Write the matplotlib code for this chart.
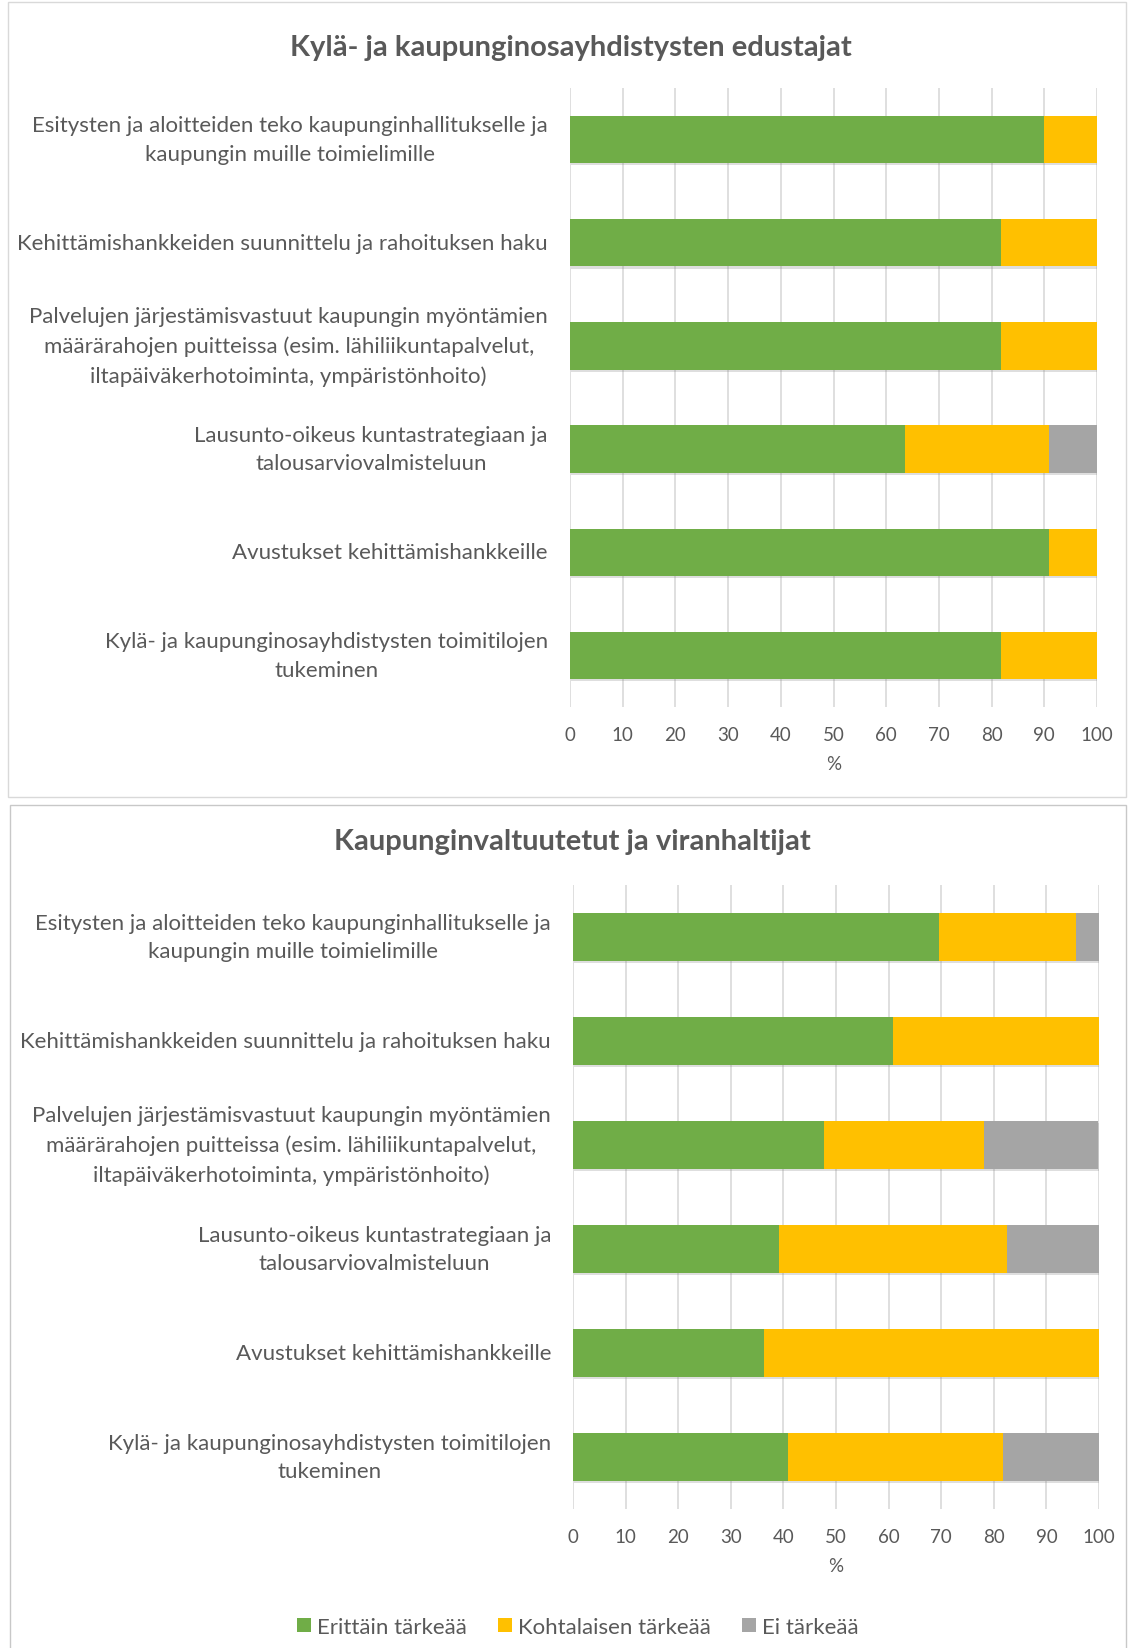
import numpy as np
import matplotlib.pyplot as plt
from matplotlib.patches import Rectangle, Patch
from matplotlib.transforms import ScaledTranslation
import matplotlib.patheffects as pe

plt.rcParams['font.family'] = ['Lato', 'DejaVu Sans']

# categories (top to bottom)
categories = [
    "Esitysten ja aloitteiden teko kaupunginhallitukselle ja\nkaupungin muille toimielimille",
    "Kehittämishankkeiden suunnittelu ja rahoituksen haku",
    "Palvelujen järjestämisvastuut kaupungin myöntämien\nmäärärahojen puitteissa (esim. lähiliikuntapalvelut,\niltapäiväkerhotoiminta, ympäristönhoito)",
    "Lausunto-oikeus kuntastrategiaan ja\ntalousarviovalmisteluun",
    "Avustukset kehittämishankkeille",
    "Kylä- ja kaupunginosayhdistysten toimitilojen\ntukeminen",
]
series_names = ["Erittäin tärkeää", "Kohtalaisen tärkeää", "Ei tärkeää"]

# Kylä- ja kaupunginosayhdistysten edustajat
top_title = "Kylä- ja kaupunginosayhdistysten edustajat"
top_green = [90.0, 81.8, 81.8, 63.6, 90.9, 81.8]
top_yellow = [10.0, 18.2, 18.2, 27.3, 9.1, 18.2]
top_gray = [0.0, 0.0, 0.0, 9.1, 0.0, 0.0]

# Kaupunginvaltuutetut ja viranhaltijat
bot_title = "Kaupunginvaltuutetut ja viranhaltijat"
bot_green = [69.6, 60.9, 47.8, 39.1, 36.4, 40.9]
bot_yellow = [26.1, 39.1, 30.4, 43.5, 63.6, 40.9]
bot_gray = [4.3, 0.0, 21.7, 17.4, 0.0, 18.2]

colors = ["#70AD47", "#FFC000", "#A5A5A5"]
text_col = "#595959"
grid_col = "#D9D9D9"

W, H = 1128, 1649
fig = plt.figure(figsize=(11.28, 16.49), dpi=100)

# panel borders (chart areas)
fig.patches.append(Rectangle((8/W, 1 - 798/H), 1118/W, 795/H,
                             transform=fig.transFigure, fill=False,
                             edgecolor=grid_col, linewidth=1))
fig.patches.append(Rectangle((10/W, -0.01), 1116/W, 1 - 806/H + 0.01,
                             transform=fig.transFigure, fill=False,
                             edgecolor="#C8C8C8", linewidth=1))


def draw_panel(ax, green, yellow, gray):
    y = np.arange(len(categories))
    shadow = [pe.SimplePatchShadow(offset=(0.5, -1.5), alpha=0.25, shadow_rgbFace="#7f7f7f"), pe.Normal()]
    left = np.zeros(len(categories))
    for vals, col in zip([green, yellow, gray], colors):
        bars = ax.barh(y, vals, left=left, height=0.46, color=col, zorder=3)
        for b in bars:
            b.set_path_effects(shadow)
        left = left + np.array(vals)
    ax.set_xlim(0, 100)
    ax.set_ylim(len(categories) - 0.5, -0.5)
    ax.set_xticks(np.arange(0, 101, 10))
    ax.set_yticks(y)
    ax.set_yticklabels([])
    # category labels as plain texts with centred lines
    tr = ax.get_yaxis_transform() + ScaledTranslation(-22 / 100, 0, fig.dpi_scale_trans)
    for yi, cat in zip(y, categories):
        ax.text(0, yi, cat, transform=tr, ha='right', va='center', multialignment='center',
                linespacing=1.55, fontsize=16, color=text_col)
    ax.tick_params(axis='y', length=0)
    ax.tick_params(axis='x', length=0, pad=14, labelsize=13.5, labelcolor=text_col)
    ax.grid(axis='x', color=grid_col, linewidth=1.2, zorder=0)
    for s in ax.spines.values():
        s.set_visible(False)
    ax.set_xlabel("%", color=text_col, fontsize=13.5, labelpad=8)


ax1 = fig.add_axes([570/W, 1 - 708/H, 527/W, 619/H])
draw_panel(ax1, top_green, top_yellow, top_gray)
fig.text(571/W, 1 - 48/H, top_title, ha='center', va='center',
         fontsize=21, fontweight='bold', color=text_col)

ax2 = fig.add_axes([573/W, 1 - 1510/H, 526/W, 624/H])
draw_panel(ax2, bot_green, bot_yellow, bot_gray)
fig.text(572/W, 1 - 842/H, bot_title, ha='center', va='center',
         fontsize=21, fontweight='bold', color=text_col)

handles = [Patch(facecolor=c, edgecolor='none') for c in colors]
fig.legend(handles, series_names, loc='center', bbox_to_anchor=(578/W, 1 - 1628/H),
           ncol=3, frameon=False, fontsize=16, labelcolor=text_col,
           handlelength=0.6, handleheight=0.6, handletextpad=0.3, columnspacing=1.4)

fig.savefig("out.png", dpi=100, facecolor="white")
